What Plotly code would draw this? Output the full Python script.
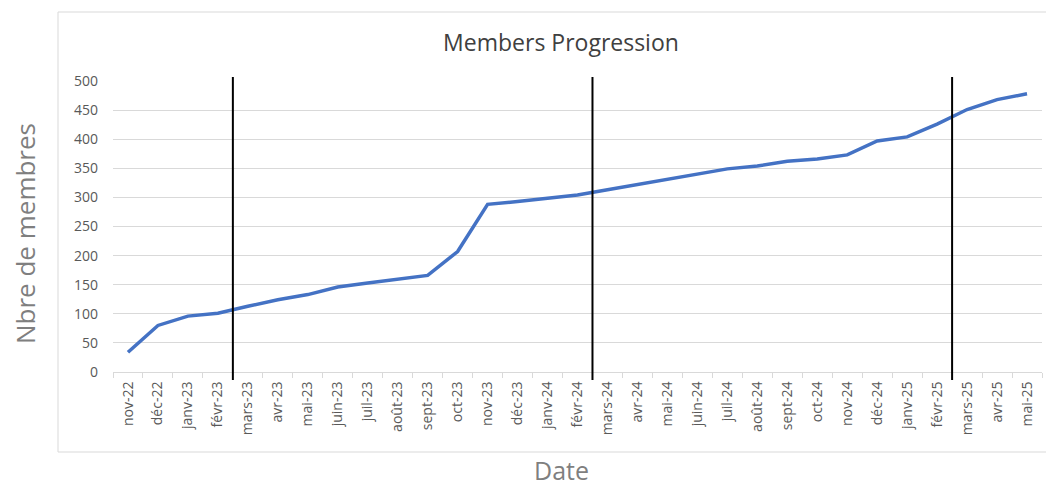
import plotly.graph_objects as go

# =========================
# DATA
# =========================
months = [
    "nov-22", "déc-22", "janv-23", "févr-23", "mars-23", "avr-23", "mai-23",
    "juin-23", "juil-23", "août-23", "sept-23", "oct-23", "nov-23", "déc-23",
    "janv-24", "févr-24", "mars-24", "avr-24", "mai-24", "juin-24", "juil-24",
    "août-24", "sept-24", "oct-24", "nov-24", "déc-24", "janv-25", "févr-25",
    "mars-25", "avr-25", "mai-25",
]
members = [
    34, 80, 96, 101, 113, 124, 133, 146, 153, 160, 166, 207, 288, 293, 298,
    304, 313, 322, 331, 341, 349, 354, 362, 366, 373, 397, 404, 426, 451,
    468, 478,
]
# year separators: between févr and mars of each year
separators = [("févr-23", "mars-23"), ("févr-24", "mars-24"), ("févr-25", "mars-25")]
y_ticks = list(range(0, 501, 50))

# =========================
# LAYOUT HELPERS
# =========================
W, H = 1046, 490
ML, MR, MT, MB = 113, 4, 81, 118
PW, PH = W - ML - MR, H - MT - MB


def px_x(x):
    return (x - ML) / PW


def px_y(y):
    return (H - MB - y) / PH


FONT = "Open Sans"
GRID = "#d9d9d9"

fig = go.Figure()
fig.add_trace(go.Scatter(
    x=months, y=members, mode="lines",
    line=dict(color="#4472C4", width=3.5),
    showlegend=False,
))

shapes = [
    # chart frame (Excel chart area border)
    dict(type="rect", xref="paper", yref="paper",
         x0=px_x(58), x1=px_x(1060), y0=px_y(452), y1=px_y(12),
         line=dict(color=GRID, width=1), layer="below"),
]
for a, b in separators:
    xpos = (months.index(a) + months.index(b)) / 2
    shapes.append(dict(type="line", xref="x", yref="paper",
                       x0=xpos, x1=xpos, y0=px_y(380), y1=px_y(77),
                       line=dict(color="#000000", width=2)))

fig.update_layout(
    width=W, height=H,
    margin=dict(l=ML, r=MR, t=MT, b=MB),
    paper_bgcolor="white", plot_bgcolor="white",
    font=dict(family=FONT, color="#595959"),
    title=dict(text="Members Progression", x=px_x(561), xref="paper",
               y=1 - 43 / H, yref="container", xanchor="center", yanchor="middle",
               font=dict(family=FONT, size=23, color="#404040")),
    shapes=shapes,
    annotations=[
        dict(text="Nbre de membres", xref="paper", yref="paper",
             x=px_x(25), y=px_y(234), textangle=-90, showarrow=False,
             xanchor="center", yanchor="middle",
             font=dict(family=FONT, size=26, color="#7f7f7f")),
        dict(text="Date", xref="paper", yref="paper",
             x=px_x(561), y=px_y(489), showarrow=False,
             xanchor="center", yanchor="bottom",
             font=dict(family=FONT, size=25, color="#7f7f7f")),
    ],
)
fig.update_xaxes(
    type="category", categoryorder="array", categoryarray=months,
    range=[-0.5, len(months) - 0.5],
    tickson="boundaries", ticks="outside", ticklen=5, tickcolor=GRID,
    showline=True, linecolor=GRID, linewidth=1, showgrid=False,
    tickangle=-90, tickfont=dict(family=FONT, size=14, color="#595959"),
    ticklabelstandoff=3,
)
fig.update_yaxes(
    range=[0, 500], tickvals=y_ticks, showgrid=True, gridcolor=GRID,
    gridwidth=1, zeroline=False, showline=False,
    tickfont=dict(family=FONT, size=14, color="#595959"),
    ticklabelstandoff=14,
)

# drop the default 8px body margin so the figure fills the window exactly
fig.write_html("out.html", config={"displayModeBar": False},
               post_script="document.body.style.margin='0';")
